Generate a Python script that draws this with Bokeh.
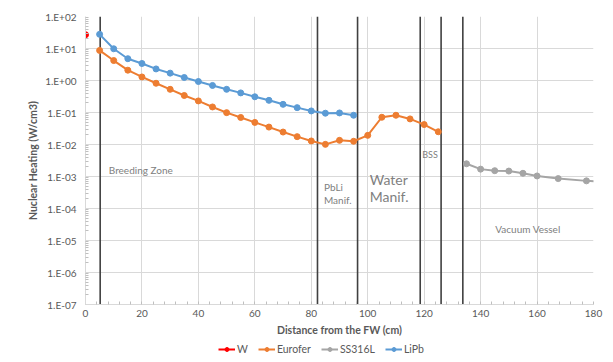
from bokeh.plotting import figure
from bokeh.layouts import column
from bokeh.models import (FixedTicker, CustomJSTickFormatter, Range1d, Legend,
                          ColumnDataSource)
from bokeh.core.properties import value
from bokeh.embed import file_html
from bokeh.resources import INLINE

# ---------------- data ----------------
w_x = [0]
w_y = [27.0]

eurofer_x = [5, 10, 15, 20, 25, 30, 35, 40, 45, 50, 55, 60, 65, 70, 75, 80,
             85, 90, 95, 100, 105, 110, 115, 120, 125]
eurofer_y = [8.7, 4.2, 2.1, 1.29, 0.82, 0.53, 0.34, 0.23, 0.149, 0.099, 0.070,
             0.049, 0.035, 0.0245, 0.0176, 0.0129, 0.0101, 0.0135, 0.0126,
             0.0193, 0.071, 0.082, 0.063, 0.042, 0.025]

ss316l_x = [135, 140, 145, 150, 155, 160, 167.5, 177.5, 187.5]
ss316l_y = [0.0025, 0.0017, 0.00152, 0.00148, 0.00126, 0.00104, 0.00086,
            0.00073, 0.00066]

lipb_x = [5, 10, 15, 20, 25, 30, 35, 40, 45, 50, 55, 60, 65, 70, 75, 80,
          85, 90, 95]
lipb_y = [27.7, 9.8, 4.8, 3.4, 2.3, 1.7, 1.24, 0.93, 0.70, 0.53, 0.41, 0.31,
          0.24, 0.18, 0.142, 0.112, 0.095, 0.097, 0.082]

boundaries = [5.2, 82.2, 96.4, 118.6, 126.0, 133.7]

x_ticks = [0, 20, 40, 60, 80, 100, 120, 140, 160, 180]
y_ticks = [1e-7, 1e-6, 1e-5, 1e-4, 1e-3, 1e-2, 1e-1, 1e0, 1e1, 1e2]

# ---------------- figure ----------------
FONT = "Lato"
GRID = "#d9d9d9"
TXT = "#595959"

p = figure(width=608, height=338, y_axis_type="log",
           x_range=Range1d(0, 180), y_range=Range1d(1e-7, 1e2),
           output_backend="svg", toolbar_location=None,
           min_border_left=85, min_border_right=15, min_border_top=16,
           min_border_bottom=32)
p.outline_line_color = None

p.xaxis.ticker = FixedTicker(ticks=x_ticks, minor_ticks=list(range(0, 181, 4)))
p.yaxis.ticker = FixedTicker(ticks=y_ticks,
                             minor_ticks=[m * 10.0 ** e for e in range(-7, 2) for m in range(2, 10)])
p.yaxis.formatter = CustomJSTickFormatter(code="""
const e = Math.round(Math.log10(tick));
const s = e < 0 ? '-' : '+';
return '1.E' + s + String(Math.abs(e)).padStart(2, '0');
""")

for ax in (p.xaxis[0], p.yaxis[0]):
    ax.axis_line_color = GRID
    ax.major_tick_line_color = None
    ax.major_tick_in = 0
    ax.major_tick_out = 0
    ax.minor_tick_line_color = "#bfbfbf"
    ax.minor_tick_in = 3
    ax.minor_tick_out = 0
    ax.major_label_text_font = FONT
    ax.major_label_text_font_size = "10px"
    ax.major_label_text_color = TXT
    ax.axis_label_text_font = FONT
    ax.axis_label_text_font_size = "10.5px"
    ax.axis_label_text_font_style = "bold"
    ax.axis_label_text_color = TXT

p.xaxis.axis_label = "Distance from the FW (cm)"
p.yaxis.axis_label = "Nuclear Heating (W/cm3)"
p.xaxis.major_label_standoff = 5
p.xaxis.axis_label_standoff = 4
p.yaxis.major_label_standoff = 9
p.yaxis.axis_label_standoff = 3

p.xgrid.grid_line_color = GRID
p.ygrid.grid_line_color = GRID

# region boundaries
p.segment(x0=boundaries, x1=boundaries, y0=[1e-7] * len(boundaries),
          y1=[1e2] * len(boundaries), line_color="#404040", line_width=1.6)

# legend strip (separate figure so the legend is not clipped by the frame);
# its ranges lie outside the data, so only the legend shows there
lf = figure(width=608, height=22, output_backend="svg", toolbar_location=None,
            x_range=Range1d(-2, -1), y_range=Range1d(0, 1),
            x_axis_location=None, y_axis_location=None,
            min_border_left=0, min_border_right=0, min_border_top=0,
            min_border_bottom=0)
lf.outline_line_color = None
lf.xgrid.visible = False
lf.ygrid.visible = False

# series
series = [("W", w_x, w_y, "#ff0000"),
          ("Eurofer", eurofer_x, eurofer_y, "#ed7d31"),
          ("SS316L", ss316l_x, ss316l_y, "#a5a5a5"),
          ("LiPb", lipb_x, lipb_y, "#5b9bd5")]
items = []
for name, xs, ys, col in series:
    src = ColumnDataSource(dict(x=xs, y=ys))
    p.line("x", "y", source=src, line_color=col, line_width=2)
    p.scatter("x", "y", source=src, size=6, fill_color=col, line_color=col)
    l1 = lf.line("x", "y", source=src, line_color=col, line_width=2)
    l2 = lf.scatter("x", "y", source=src, size=6, fill_color=col, line_color=col)
    items.append((name, [l1, l2]))

legend = Legend(items=items, orientation="horizontal", location=(133, 5),
                label_text_font=FONT, label_text_font_size="10.5px",
                label_text_color=TXT, border_line_color=None,
                background_fill_alpha=0, glyph_width=17, glyph_height=10,
                spacing=10, padding=2, margin=0, label_standoff=2,
                label_height=12, label_width=4)
lf.add_layout(legend, "center")

# region labels
def lab(x, y, t, size, col="#808080"):
    p.text(x=[x], y=[y], text=[t], text_font=value(FONT),
           text_font_size=size, text_color=col, text_baseline="middle",
           text_align="left")

lab(8.25, 1.56e-3, "Breeding Zone", "10px")
lab(84.5, 4.7e-4, "PbLi", "10px")
lab(84.5, 1.83e-4, "Manif.", "10px")
lab(100.7, 7.8e-4, "Water", "14px", "#7f7f7f")
lab(100.7, 2.39e-4, "Manif.", "14px", "#7f7f7f")
lab(119.3, 4.86e-3, "BSS", "9px")
lab(145.2, 2.3e-5, "Vacuum Vessel", "10px")

layout = column(p, lf, spacing=0)
open("out.html", "w").write(file_html(layout, INLINE))
